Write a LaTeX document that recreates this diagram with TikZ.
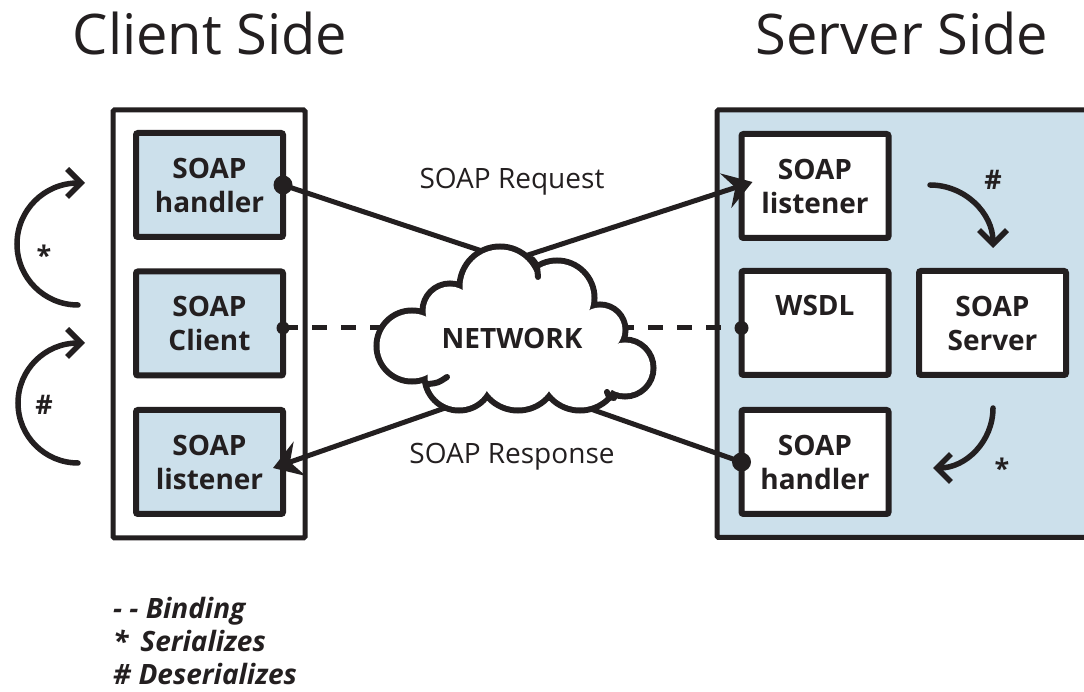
\documentclass[tikz,border=0pt]{standalone}
\usepackage{fontspec}
\setmainfont{Open Sans}
\usetikzlibrary{arrows.meta}
\definecolor{ink}{HTML}{231F20}
\definecolor{paleblue}{HTML}{CCE0EB}
\tikzset{
  frame/.style={draw=ink, line width=5pt, rounded corners=1.5pt},
  compbox/.style={draw=ink, line width=6pt, rounded corners=2pt, outer sep=0pt, inner sep=0pt,
    minimum width=147pt, minimum height=104pt, align=center, text=ink,
    font=\fontsize{28}{34}\selectfont\bfseries},
  clientbox/.style={compbox, fill=paleblue},
  serverbox/.style={compbox, fill=white},
  link/.style={draw=ink, line width=5pt},
  bind/.style={draw=ink, line width=5pt, dash pattern=on 15pt off 14pt},
  flow/.style={draw=ink, line width=5.5pt, line cap=round, -{Straight Barb[length=14pt,width=28pt]}},
  msgtip/.style={-{Stealth[length=28pt,width=36pt,inset=10pt]}},
  pin/.style={fill=ink},
  title/.style={text=ink, font=\fontsize{56}{60}\selectfont, anchor=base, inner sep=0pt},
  caption/.style={text=ink, font=\fontsize{28}{32}\selectfont, anchor=base, inner sep=0pt},
  symlabel/.style={text=ink, font=\fontsize{27}{32}\selectfont\bfseries, anchor=base, inner sep=0pt},
  legend/.style={text=ink, font=\fontsize{28}{32}\selectfont\bfseries\itshape, anchor=base west, inner sep=0pt},
  hook/.style={draw=ink, line width=6pt, line cap=round},
}
\begin{document}
\begin{tikzpicture}[x=1pt, y=1pt]
\useasboundingbox (0,0) rectangle (1084,691);
\fill[white] (0,0) rectangle (1084,691);

% headings
\node[title] (hclient) at (210,636) {Client Side};
\node[title] (hserver) at (902,636) {Server Side};

% outer frames
\draw[frame, fill=white] (113,581) rectangle (305,153);
\draw[frame, fill=paleblue] (717,581) rectangle (1100,153.5);

% client components
\node[clientbox] (ch) at (209.5,506) {SOAP\\handler};
\node[clientbox] (cc) at (209.5,367.5) {SOAP\\Client};
\node[clientbox] (cl) at (209.5,229) {SOAP\\listener};

% server components
\node[serverbox] (sl) at (815,505) {SOAP\\listener};
\node[serverbox] (sw) at (815,368) {WSDL\\\phantom{Server}};
\node[serverbox] (sh) at (815,229) {SOAP\\handler};
\node[serverbox] (ss) at (992.5,368) {SOAP\\Server};

% ends of the links, hidden inside the cloud
\coordinate (n1) at (500,434);
\coordinate (n2) at (505,428.5);
\coordinate (n3) at (470,291.7);
\coordinate (n4) at (565,291);
\coordinate (nL) at (420,363);
\coordinate (nR) at (610,363);

% message links
\draw[link] (ch.east) -- (n1);
\draw[link, msgtip] (n2) -- ([shift={(11,4)}]sl.west);
\draw[link, msgtip] (n3) -- ([shift={(-10,-6)}]cl.east);
\draw[link] (n4) -- (sh.west);

% binding
\draw[bind] ([yshift=-4.5pt]cc.east) -- (nL);
\draw[bind, dash phase=8pt] ([yshift=-5pt]sw.west) -- (nR);

% network cloud: stroked puffs, then white fill of their union
\foreach \cx/\cy/\r in {500/404/37.5, 557/393/34.5, 600/361/22.5, 625/323/25.5,
                        580/321/37.5, 518/321/37.5, 459/315/31.5, 412/345/32.5, 450/380/24.5}
  \draw[ink, line width=12pt] (\cx,\cy) circle[radius=\r];
\foreach \cx/\cy/\r in {500/404/37.5, 557/393/34.5, 600/361/22.5, 625/323/25.5,
                        580/321/37.5, 518/321/37.5, 459/315/31.5, 412/345/32.5, 450/380/24.5}
  \fill[white] (\cx,\cy) circle[radius=\r];
\fill[white] (500,404) -- (557,393) -- (600,361) -- (625,323) -- (580,321) -- (518,321)
  -- (459,315) -- (412,345) -- (450,380) -- cycle;
\draw[hook] (532,432) .. controls (537,426) .. (538,414);
\draw[hook] (428,307) .. controls (438,308) .. (447,314);
\draw[hook] (614,293) .. controls (609,294) .. (607,299);
\node[text=ink, font=\fontsize{28}{34}\selectfont\bfseries] (net) at (512,353) {NETWORK};

% connection points
\fill[pin] (ch.east) circle[radius=9.5];
\fill[pin] ([yshift=-4.5pt]cc.east) circle[radius=6.5];
\fill[pin] ([yshift=-5pt]sw.west) circle[radius=7];
\fill[pin] (sh.west) circle[radius=9.5];

% message captions
\node[caption] (req) at (512,502) {SOAP Request};
\node[caption] (resp) at (512,227) {SOAP Response};

% client side processing arrows
\draw[flow] (78,386) arc[start angle=-90, end angle=-270, radius=61] -- ++(7,0);
\draw[flow] (78,228) arc[start angle=-90, end angle=-270, radius=60] -- ++(7,0);
\node[symlabel] (cser) at (44,425) {*};
\node[symlabel] (cdes) at (44,276) {\#};

% server side processing arrows
\draw[flow] (930,506) arc[start angle=90, end angle=0, radius=63];
\draw[flow] (993,283) arc[start angle=0, end angle=-90, radius=60];
\node[symlabel] (sdes) at (993,501) {\#};
\node[symlabel] (sser) at (1002,212) {*};

% legend
\node[legend] (lg1) at (113,73) {- - Binding};
\node[legend] (lg2) at (113,40) {*\hspace{12pt}Serializes};
\node[legend] (lg3) at (113,7) {\# Deserializes};
\end{tikzpicture}
\end{document}
